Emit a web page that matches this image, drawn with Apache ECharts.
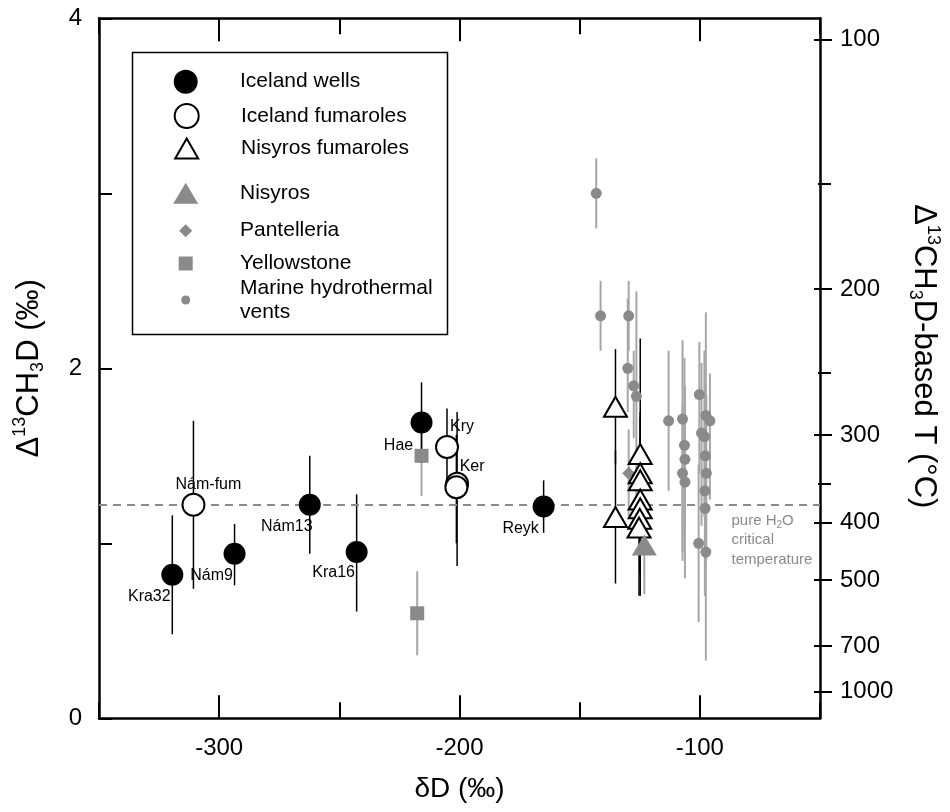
<!DOCTYPE html>
<html><head><meta charset="utf-8">
<script src="https://cdn.jsdelivr.net/npm/echarts@6/dist/echarts.min.js"></script>
<style>html,body{margin:0;padding:0;background:#fff}#c{width:950px;height:812px}</style>
</head><body><div id="c"></div>
<script>
// ---------- axis ticks ----------
const xLabelTicks = [-300, -200, -100];
const tempLabels = [100, 200, 300, 400, 500, 700, 1000];
const tempTickDelta = [3.88, 2.453, 1.619, 1.118, 0.790, 0.413, 0.152];
const tempMinorDelta = [3.057, 1.975, 1.343];
const criticalDelta = 1.22;

// ---------- Iceland wells ----------
const wellNames = ['Kra32', 'Nám9', 'Nám13', 'Kra16', 'Hae', 'Reyk'];
const wellDD = [-319.5, -293.6, -262.3, -242.8, -215.8, -165.0];
const wellD13 = [0.82, 0.94, 1.22, 0.95, 1.69, 1.21];
const wellLo = [0.48, 0.76, 0.94, 0.61, 1.46, 1.06];
const wellHi = [1.16, 1.11, 1.50, 1.28, 1.92, 1.36];

// ---------- Iceland fumaroles ----------
const fumNames = ['Nám-fum', 'Kry', 'Ker', ''];
const fumDD = [-310.7, -205.2, -201.0, -201.3];
const fumD13 = [1.22, 1.55, 1.34, 1.32];
const fumLo = [0.74, 1.34, 0.87, 1.00];
const fumHi = [1.70, 1.77, 1.75, 1.62];

// ---------- Nisyros fumaroles ----------
const nfDD = [-135.1, -135.1, -124.8, -124.8, -124.8, -124.8, -124.8, -125.0, -125.3];
const nfD13 = [1.78, 1.15, 1.51, 1.40, 1.36, 1.25, 1.20, 1.14, 1.09];
const nfLo = [1.45, 0.77, 0.85, 1.05, 0.83, 0.70, 0.90, 0.83, 0.70];
const nfHi = [2.11, 1.53, 2.17, 1.75, 1.72, 1.60, 1.50, 1.45, 1.40];

// ---------- Nisyros ----------
const nisDD = [-123.1];
const nisD13 = [0.99];
const nisLo = [0.71];
const nisHi = [1.27];

// ---------- Pantelleria ----------
const panDD = [-129.6];
const panD13 = [1.40];
const panLo = [1.15];
const panHi = [1.65];

// ---------- Yellowstone ----------
const ysDD = [-215.8, -217.6];
const ysD13 = [1.50, 0.60];
const ysLo = [1.27, 0.36];
const ysHi = [1.73, 0.84];

// ---------- Marine hydrothermal vents ----------
const ventDD = [-143.1, -141.3, -129.6, -130.0, -127.5, -126.4, -113.0, -107.2, -106.4, -106.2, -107.2, -106.2,
                -100.2, -97.5, -95.8, -99.3, -98.1, -97.7, -97.3, -97.9, -97.8, -100.5, -97.5];
const ventD13 = [3.00, 2.30, 2.30, 2.00, 1.90, 1.84, 1.70, 1.71, 1.56, 1.48, 1.40, 1.35,
                 1.85, 1.73, 1.70, 1.63, 1.61, 1.50, 1.40, 1.30, 1.20, 1.00, 0.95];
const ventLo = [2.80, 2.10, 2.10, 1.75, 1.60, 1.25, 1.30, 0.90, 1.05, 1.10, 0.95, 0.80,
                1.40, 1.20, 1.25, 1.10, 1.15, 0.95, 0.90, 0.70, 0.75, 0.55, 0.33];
const ventHi = [3.20, 2.50, 2.50, 2.40, 2.10, 2.44, 2.10, 2.16, 2.06, 1.90, 1.80, 1.85,
                2.15, 2.32, 1.97, 2.03, 2.10, 1.90, 1.85, 1.75, 1.65, 1.45, 1.55];

// ---------- styles ----------
const FONT = '"Liberation Sans", Arial, Helvetica, sans-serif';
const GRAY = '#8a8a8a';
const ERRGRAY = '#a6a6a6';
const labelOffsets = {
  'Kra32': [-23, 22], 'Nám-fum': [15, -20], 'Nám9': [-23, 22], 'Nám13': [-23, 22],
  'Kra16': [-23, 21], 'Hae': [-23, 23], 'Kry': [15, -20], 'Ker': [15, -17], 'Reyk': [-23, 22]
};

function zip(xs, ys) { return xs.map((x, i) => [x, ys[i]]); }
function errData(xs, lo, hi) { return xs.map((x, i) => [x, lo[i], hi[i]]); }
function errSeries(name, data, color, width, z) {
  return {
    type: 'custom', name: name, data: data, z: z, silent: true,
    encode: { x: 0, y: [1, 2] },
    renderItem: function (params, api) {
      const p1 = api.coord([api.value(0), api.value(1)]);
      const p2 = api.coord([api.value(0), api.value(2)]);
      return { type: 'line', shape: { x1: p1[0], y1: p1[1], x2: p2[0], y2: p2[1] },
               style: { stroke: color, lineWidth: width } };
    }
  };
}
function labeled(xs, ys, names) {
  return xs.map((x, i) => ({
    value: [x, ys[i]],
    label: names[i] ? { show: true, formatter: names[i], offset: labelOffsets[names[i]] } : { show: false }
  }));
}

const chart = echarts.init(document.getElementById('c'), null, { renderer: 'canvas' });

const gridRect = { left: 99, right: 126, top: 18.3, bottom: 93.7, containLabel: false };
const axisLineStyle = { color: '#000', width: 2.5 };
const tickLine = { color: '#000', width: 2 };

// x axes: ticks every 100 counted from -350 (-350,-250,-150,-50) + minor ticks halfway (-300,-200,-100)
function xMain(pos) {
  return { type: 'value', min: -350, max: -50, interval: 100, position: pos, splitLine: { show: false },
    axisLine: { show: true, onZero: false, lineStyle: axisLineStyle },
    axisTick: { show: true, inside: true, length: 16, lineStyle: tickLine },
    minorTick: { show: true, splitNumber: 2, length: 23, lineStyle: tickLine },
    minorSplitLine: { show: false } };
}
const xHidden = (g) => ({ type: 'value', gridIndex: g, min: -350, max: -50, show: false });
const yRight = (g, len, inside, vals) => ({ type: 'value', gridIndex: g, min: 0, max: 4, position: 'right',
  splitLine: { show: false }, axisLine: { show: false, onZero: false }, axisLabel: { show: false },
  axisTick: { show: true, inside: inside, length: len, customValues: vals, lineStyle: tickLine } });

const NAMESIZE = 31;
const richName = {
  sup: { fontSize: 18, verticalAlign: 'top', fontFamily: FONT, color: '#000', lineHeight: 36 },
  sub: { fontSize: 18, verticalAlign: 'bottom', fontFamily: FONT, color: '#000', lineHeight: 32 },
  n: { fontSize: NAMESIZE, fontFamily: FONT, color: '#000', lineHeight: 36 }
};

function tempLabelFor(v) {
  for (let i = 0; i < tempTickDelta.length; i++) if (Math.abs(tempTickDelta[i] - v) < 1e-6) return String(tempLabels[i]);
  return '';
}

// legend layout rows: [series name, center y, icon w, icon h, lines]
const legendRows = [
  ['Iceland wells', 81.7, 24, 24, 1],
  ['Iceland fumaroles', 115, 24, 24, 1],
  ['Nisyros fumaroles', 147.5, 23, 20, 1],
  ['Nisyros', 193.3, 25, 21, 1],
  ['Pantelleria', 226.7, 13, 13, 1],
  ['Yellowstone', 260, 14, 14, 1],
  ['Marine hydrothermal\nvents', 300, 9, 9, 2]
];
const legendIconCx = 185.7, legendTextX = 240;
const legends = legendRows.map(r => {
  const [name, cy, w, h, lines] = r;
  const lh = lines > 1 ? 24 : h;
  const boxH = lines > 1 ? 48 : h;
  return {
    data: [name], orient: 'vertical', selectedMode: false, padding: 0,
    left: legendIconCx - w / 2, top: cy - boxH / 2,
    itemWidth: w, itemHeight: h,
    textStyle: { fontSize: 21, fontFamily: FONT, color: '#000', lineHeight: lh,
      padding: [0, 0, 0, legendTextX - 5 - (legendIconCx + w / 2)] }
  };
});

const option = {
  animation: false,
  backgroundColor: '#fff',
  textStyle: { fontFamily: FONT },
  grid: [gridRect, gridRect, gridRect, gridRect],
  legend: legends,
  xAxis: [
    Object.assign(xMain('bottom'), {
      axisLabel: { show: true, customValues: xLabelTicks, fontSize: 24, color: '#000', margin: 18, fontFamily: FONT },
      name: 'δD (‰)', nameLocation: 'middle', nameGap: 57,
      nameTextStyle: { fontSize: 28, color: '#000', fontFamily: FONT } }),
    Object.assign(xMain('top'), { axisLabel: { show: false } }),
    xHidden(1), xHidden(2), xHidden(3)
  ],
  yAxis: [
    { type: 'value', min: 0, max: 4, interval: 1, position: 'left', splitLine: { show: false },
      axisLine: { show: true, onZero: false, lineStyle: axisLineStyle },
      axisTick: { inside: true, length: 13, lineStyle: tickLine },
      axisLabel: { fontSize: 24, color: '#000', margin: 17, fontFamily: FONT,
        formatter: v => (v % 2 === 0 ? String(v) : '') },
      name: '{n|Δ}{sup|13}{n|CH}{sub|3}{n|D (‰)}', nameLocation: 'middle', nameGap: 52,
      nameTextStyle: { fontSize: NAMESIZE, color: '#000', fontFamily: FONT, rich: richName } },
    { type: 'value', min: 0, max: 4, position: 'right', splitLine: { show: false },
      axisLine: { show: true, onZero: false, lineStyle: axisLineStyle },
      axisTick: { inside: false, length: 12, customValues: tempTickDelta, lineStyle: tickLine },
      axisLabel: { show: true, customValues: tempTickDelta, formatter: tempLabelFor,
        fontSize: 24, color: '#000', margin: 20, fontFamily: FONT },
      name: '{n|Δ}{sup|13}{n|CH}{sub|3}{n|D-based T (°C)}', nameLocation: 'middle', nameGap: 86, nameRotate: -90,
      nameTextStyle: { fontSize: NAMESIZE, color: '#000', fontFamily: FONT, rich: richName, padding: [0, 24, 0, 0] } },
    yRight(1, 10, true, tempTickDelta),
    yRight(2, 7, false, tempMinorDelta),
    yRight(3, 6, true, tempMinorDelta)
  ],
  graphic: [
    { type: 'rect', left: 130, top: 50, shape: { width: 315, height: 282 },
      style: { fill: 'none', stroke: '#000', lineWidth: 1.5 }, z: 1 },
    { type: 'text', left: 731.5, top: 513, z: 10,
      style: { text: '{t|pure H}{s|2}{t|O}\n{t|critical}\n{t|temperature}', fill: GRAY,
        rich: { t: { fontSize: 15, fill: GRAY, fontFamily: FONT, lineHeight: 19.5 },
                s: { fontSize: 10, fill: GRAY, fontFamily: FONT, lineHeight: 19.5, verticalAlign: 'bottom' } } } }
  ],
  series: [
    errSeries('ventErr', errData(ventDD, ventLo, ventHi), ERRGRAY, 2, 2),
    errSeries('nisErr', errData(nisDD, nisLo, nisHi), ERRGRAY, 2, 2),
    errSeries('panErr', errData(panDD, panLo, panHi), ERRGRAY, 2, 2),
    errSeries('ysErr', errData(ysDD, ysLo, ysHi), ERRGRAY, 2, 2),
    errSeries('wellErr', errData(wellDD, wellLo, wellHi), '#000', 1.5, 3),
    errSeries('fumErr', errData(fumDD, fumLo, fumHi), '#000', 1.5, 3),
    errSeries('nfErr', errData(nfDD, nfLo, nfHi), '#000', 1.5, 3),
    { type: 'scatter', name: 'Marine hydrothermal\nvents', data: zip(ventDD, ventD13), z: 4,
      symbol: 'circle', symbolSize: 11, itemStyle: { color: GRAY, opacity: 1 },
      markLine: { silent: true, symbol: 'none', label: { show: false },
        lineStyle: { color: GRAY, width: 2, type: [8, 6] }, data: [{ yAxis: criticalDelta }] } },
    { type: 'scatter', name: 'Pantelleria', data: zip(panDD, panD13), z: 4,
      symbol: 'diamond', symbolSize: [13, 13], itemStyle: { color: GRAY, opacity: 1 } },
    { type: 'scatter', name: 'Yellowstone', data: zip(ysDD, ysD13), z: 4,
      symbol: 'rect', symbolSize: 14, itemStyle: { color: GRAY, opacity: 1 } },
    { type: 'scatter', name: 'Nisyros', data: zip(nisDD, nisD13), z: 6,
      symbol: 'triangle', symbolSize: [25, 21], itemStyle: { color: GRAY, opacity: 1 } },
    { type: 'scatter', name: 'Iceland wells', data: labeled(wellDD, wellD13, wellNames), z: 5,
      symbol: 'circle', symbolSize: 22, itemStyle: { color: '#000', opacity: 1 },
      label: { position: 'inside', fontSize: 16, color: '#000', fontFamily: FONT } },
    { type: 'scatter', name: 'Iceland fumaroles', data: labeled(fumDD, fumD13, fumNames), z: 5,
      symbol: 'circle', symbolSize: 22, itemStyle: { color: '#fff', borderColor: '#000', borderWidth: 2, opacity: 1 },
      label: { position: 'inside', fontSize: 16, color: '#000', fontFamily: FONT } },
    { type: 'scatter', name: 'Nisyros fumaroles', data: zip(nfDD, nfD13), z: 5,
      symbol: 'triangle', symbolSize: [23, 20], itemStyle: { color: '#fff', borderColor: '#000', borderWidth: 2, opacity: 1 } }
  ]
};
chart.setOption(option);
</script>
</body></html>
